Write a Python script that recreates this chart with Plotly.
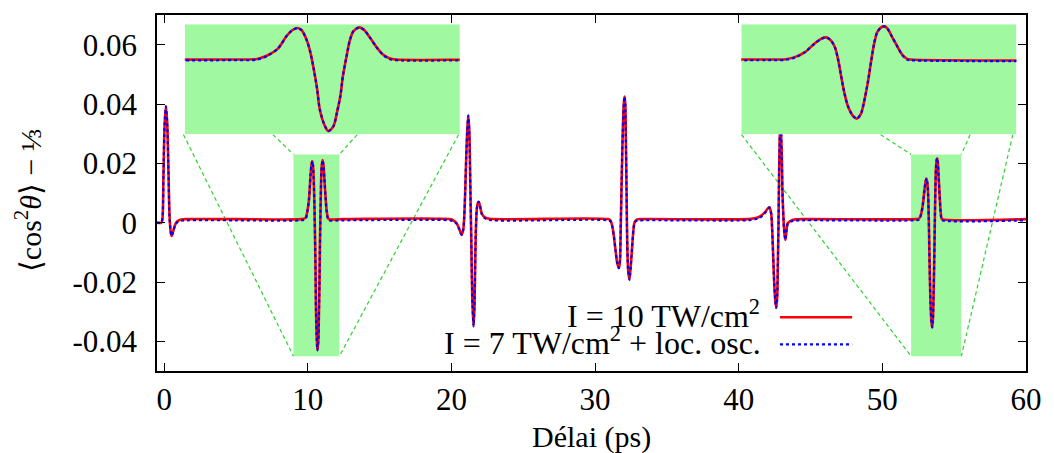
import plotly.graph_objects as go

# ---------------- data ----------------
delay_ps = [
    -0.5, -0.2, -0.12, -0.05, 0.03, 0.12, 0.21, 0.30, 0.37, 0.44, 0.51, 0.62, 0.78, 0.95, 1.2, 1.6,
    5.0, 9.5,
    9.84, 9.96, 10.08, 10.19, 10.25, 10.31, 10.36, 10.42, 10.46, 10.50, 10.54, 10.57, 10.63, 10.67,
    10.73, 10.77, 10.81, 10.84, 10.88, 10.92, 10.96, 11.03, 11.09, 11.15, 11.23, 11.31, 11.38, 11.46,
    12.5, 19.9,
    20.13, 20.36, 20.55, 20.71, 20.82, 20.89, 20.96, 21.03, 21.10, 21.17, 21.24, 21.28, 21.33, 21.38,
    21.42, 21.47, 21.54, 21.60, 21.65, 21.70, 21.76, 21.84, 21.90, 22.00, 22.11, 22.32, 22.66,
    30.9,
    31.08, 31.20, 31.31, 31.42, 31.54, 31.65, 31.72, 31.79, 31.86, 31.93, 32.00, 32.05, 32.10, 32.14,
    32.19, 32.23, 32.30, 32.39, 32.48, 32.58, 32.67, 32.76, 32.93, 33.2,
    40.6,
    41.11, 41.45, 41.80, 42.03, 42.14, 42.26, 42.33, 42.40, 42.47, 42.54, 42.61, 42.68, 42.72, 42.77,
    42.81, 42.86, 42.90, 42.95, 43.00, 43.04, 43.11, 43.18, 43.25, 43.32, 43.41, 43.64, 43.99, 44.5,
    52.3,
    52.56, 52.68, 52.81, 52.93, 53.02, 53.08, 53.14, 53.19, 53.23, 53.27, 53.31, 53.355, 53.42, 53.47,
    53.52, 53.56, 53.61, 53.65, 53.69, 53.73, 53.78, 53.82, 53.86, 53.92, 53.99, 54.05, 54.11, 54.15,
    60.0,
]

cos2_10TW = [
    0.0, 0.0, 0.0015, 0.0160, 0.0330, 0.0392, 0.0335, 0.0168, 0.0025, -0.0025, -0.0045, -0.0030, -0.0005, 0.0006, 0.0011, 0.0012,
    0.0012, 0.0012,
    0.0016, 0.0037, 0.0078, 0.0161, 0.0193, 0.0207, 0.0193, 0.0130, 0.0058, -0.0046, -0.0171, -0.0295, -0.0399, -0.0430,
    -0.0399, -0.0316, -0.0212, -0.0088, 0.0027, 0.0130, 0.0186, 0.0211, 0.0193, 0.0151, 0.0089, 0.0041, 0.0020, 0.0012,
    0.0012, 0.0012,
    0.0008, -0.0002, -0.0022, -0.0041, -0.0024, 0.0020, 0.0110, 0.0222, 0.0311, 0.0361, 0.0311, 0.0222, 0.0076, -0.0058,
    -0.0181, -0.0282, -0.0349, -0.0282, -0.0148, -0.0024, 0.0043, 0.0067, 0.0070, 0.0054, 0.0031, 0.0018, 0.0013,
    0.0012,
    0.0007, -0.0013, -0.0047, -0.0092, -0.0136, -0.0153, -0.0136, -0.0002, 0.0166, 0.0311, 0.0401, 0.0425, 0.0401, 0.0289,
    0.0110, -0.0047, -0.0159, -0.0192, -0.0148, -0.0081, -0.0024, 0.0003, 0.0011, 0.0012,
    0.0012,
    0.0015, 0.0020, 0.0034, 0.0048, 0.0052, 0.0031, -0.0024, -0.0114, -0.0203, -0.0259, -0.0287, -0.0248, -0.0148, -0.0002,
    0.0166, 0.0300, 0.0420, 0.0300, 0.0222, 0.0110, 0.0020, -0.0036, -0.0058, -0.0030, -0.0002, 0.0007, 0.0011, 0.0012,
    0.0012,
    0.0014, 0.0027, 0.0058, 0.0110, 0.0141, 0.0149, 0.0130, 0.0089, 0.0016, -0.0089, -0.0191, -0.0274, -0.0336, -0.0353,
    -0.0326, -0.0254, -0.0129, -0.0005, 0.0110, 0.0182, 0.0211, 0.0217, 0.0203, 0.0151, 0.0089, 0.0041, 0.0016, 0.0012,
    0.0012,
]

cos2_7TW_osc = [
    0.0, 0.0, 0.0015, 0.0160, 0.0330, 0.0392, 0.0335, 0.0168, 0.0025, -0.0025, -0.0045, -0.0030, -0.0007, 0.0003, 0.0007, 0.0008,
    0.0008, 0.0008,
    0.0012, 0.0035, 0.0078, 0.0161, 0.0193, 0.0207, 0.0193, 0.0130, 0.0058, -0.0046, -0.0171, -0.0295, -0.0399, -0.0430,
    -0.0399, -0.0316, -0.0212, -0.0088, 0.0027, 0.0130, 0.0186, 0.0211, 0.0193, 0.0151, 0.0089, 0.0039, 0.0016, 0.0008,
    0.0008, 0.0008,
    0.0005, -0.0004, -0.0023, -0.0041, -0.0024, 0.0020, 0.0110, 0.0222, 0.0311, 0.0361, 0.0311, 0.0222, 0.0076, -0.0058,
    -0.0181, -0.0282, -0.0349, -0.0282, -0.0148, -0.0024, 0.0043, 0.0067, 0.0070, 0.0054, 0.0029, 0.0015, 0.0009,
    0.0008,
    0.0004, -0.0014, -0.0047, -0.0092, -0.0136, -0.0153, -0.0136, -0.0002, 0.0166, 0.0311, 0.0401, 0.0425, 0.0401, 0.0289,
    0.0110, -0.0047, -0.0159, -0.0192, -0.0148, -0.0081, -0.0024, 0.0000, 0.0007, 0.0008,
    0.0008,
    0.0011, 0.0016, 0.0031, 0.0046, 0.0051, 0.0030, -0.0024, -0.0114, -0.0203, -0.0259, -0.0287, -0.0248, -0.0148, -0.0002,
    0.0166, 0.0300, 0.0420, 0.0300, 0.0222, 0.0110, 0.0018, -0.0036, -0.0058, -0.0030, -0.0004, 0.0004, 0.0007, 0.0008,
    0.0008,
    0.0010, 0.0024, 0.0058, 0.0110, 0.0141, 0.0149, 0.0130, 0.0089, 0.0016, -0.0089, -0.0191, -0.0274, -0.0336, -0.0353,
    -0.0326, -0.0254, -0.0129, -0.0005, 0.0110, 0.0182, 0.0211, 0.0217, 0.0203, 0.0151, 0.0089, 0.0038, 0.0012, 0.0008,
    0.0008,
]

series_names = ["I = 10 TW/cm<sup>2</sup>", "I = 7 TW/cm<sup>2</sup> + loc. osc."]

x_tickvals = [0, 10, 20, 30, 40, 50, 60]
x_ticktext = ["0", "10", "20", "30", "40", "50", "60"]
y_tickvals = [-0.04, -0.02, 0, 0.02, 0.04, 0.06]
y_ticktext = ["-0.04", "-0.02", "0", "0.02", "0.04", "0.06"]

x_range = [-0.5, 60]
y_range = [-0.05, 0.07]
zoom1_t = [9, 12.2]
zoom2_t = [52, 55.5]
zoom_v = [-0.045, 0.023]

# ---------------- styling ----------------
FONT = "Liberation Serif"
FS_TICK = 31
FS_LEG = 32
FS_LAB = 30
RED = "#ff0000"
BLUE = "#0000ff"
GREEN_FILL = "#a0f9a0"
GREEN_LINE = "#2bd62b"

fig = go.Figure()

for xa, ya in (("x", "y"), ("x2", "y2"), ("x3", "y3")):
    fig.add_trace(go.Scatter(
        x=delay_ps, y=cos2_10TW, mode="lines", xaxis=xa, yaxis=ya,
        line=dict(color=RED, width=2.6, shape="spline", smoothing=0.8),
        showlegend=False, hoverinfo="skip"))
    fig.add_trace(go.Scatter(
        x=delay_ps, y=cos2_7TW_osc, mode="lines", xaxis=xa, yaxis=ya,
        line=dict(color=BLUE, width=2.2, dash="3px,3px", shape="spline", smoothing=0.8),
        showlegend=False, hoverinfo="skip"))

axis_common = dict(
    showline=True, linecolor="black", linewidth=1.5, mirror="allticks",
    ticks="inside", ticklen=8, tickwidth=1, tickcolor="black",
    showgrid=False, zeroline=False,
    tickfont=dict(family=FONT, size=FS_TICK, color="black"),
)

# inset placement (fractions of plot area)
inset_y = [0.6649, 0.9739]
inset1_x = [0.0320, 0.3485]
inset2_x = [0.6724, 0.9889]

fig.update_layout(
    width=1054, height=453, autosize=False,
    margin=dict(l=157, r=21, t=15, b=82, pad=0),
    paper_bgcolor="white", plot_bgcolor="white",
    font=dict(family=FONT, size=FS_LAB, color="black"),
    showlegend=False,
    xaxis=dict(range=x_range, tickvals=x_tickvals, ticktext=x_ticktext,
               ticklabelstandoff=0, domain=[0, 1], **axis_common),
    yaxis=dict(range=y_range, tickvals=y_tickvals, ticktext=y_ticktext,
               ticklabelstandoff=12, domain=[0, 1], **axis_common),
    xaxis2=dict(domain=inset1_x, anchor="y2", range=zoom1_t, visible=False),
    yaxis2=dict(domain=inset_y, anchor="x2", range=zoom_v, visible=False),
    xaxis3=dict(domain=inset2_x, anchor="y3", range=zoom2_t, visible=False),
    yaxis3=dict(domain=inset_y, anchor="x3", range=zoom_v, visible=False),
)

shapes = []
# zoom rectangles in the main plot
for zt in (zoom1_t, zoom2_t):
    shapes.append(dict(type="rect", xref="x", yref="y", layer="below",
                       x0=zt[0], x1=zt[1], y0=zoom_v[0], y1=zoom_v[1],
                       fillcolor=GREEN_FILL, line=dict(width=0)))
# inset backgrounds
for xr, yr, zt in (("x2", "y2", zoom1_t), ("x3", "y3", zoom2_t)):
    shapes.append(dict(type="rect", xref=xr, yref=yr, layer="below",
                       x0=zt[0], x1=zt[1], y0=zoom_v[0], y1=zoom_v[1],
                       fillcolor=GREEN_FILL, line=dict(width=0)))
# connector lines (from rectangle corners to inset bottom edge)
inset_bottom_v = 0.0297
connectors = [
    (1.34, inset_bottom_v, zoom1_t[0], zoom_v[0]),
    (7.57, inset_bottom_v, zoom1_t[0], zoom_v[1]),
    (13.44, inset_bottom_v, zoom1_t[1], zoom_v[1]),
    (20.50, inset_bottom_v, zoom1_t[1], zoom_v[0]),
    (40.19, inset_bottom_v, zoom2_t[0], zoom_v[0]),
    (49.87, inset_bottom_v, zoom2_t[0], zoom_v[1]),
    (56.11, inset_bottom_v, zoom2_t[1], zoom_v[1]),
    (59.08, inset_bottom_v, zoom2_t[1], zoom_v[0]),
]
for x0, y0, x1, y1 in connectors:
    shapes.append(dict(type="line", xref="x", yref="y", layer="below",
                       x0=x0, y0=y0, x1=x1, y1=y1,
                       line=dict(color=GREEN_LINE, width=1.2, dash="4px,3px")))
# legend samples (gnuplot style: text then line)
shapes.append(dict(type="line", xref="paper", yref="paper", layer="above",
                   x0=0.7169, x1=0.7999, y0=0.1508, y1=0.1508,
                   line=dict(color=RED, width=2.6)))
shapes.append(dict(type="line", xref="paper", yref="paper", layer="above",
                   x0=0.7169, x1=0.7999, y0=0.0750, y1=0.0750,
                   line=dict(color=BLUE, width=2.2, dash="3px,3px")))
fig.update_layout(shapes=shapes)

annotations = [
    dict(text=series_names[0], xref="paper", yref="paper", x=0.6963, y=0.160,
         xanchor="right", yanchor="middle", showarrow=False,
         font=dict(family=FONT, size=FS_LEG, color="black")),
    dict(text=series_names[1], xref="paper", yref="paper", x=0.6975, y=0.0835,
         xanchor="right", yanchor="middle", showarrow=False,
         font=dict(family=FONT, size=FS_LEG, color="black")),
    dict(text="Délai (ps)", xref="paper", yref="paper", x=0.5, y=-0.185,
         xanchor="center", yanchor="middle", showarrow=False,
         font=dict(family=FONT, size=FS_LAB, color="black")),
    dict(text="⟨cos<sup>2</sup><i>θ</i>⟩ − ⅓", xref="paper", yref="paper",
         x=-0.1484, y=0.48, xanchor="center", yanchor="middle", textangle=-90,
         showarrow=False, font=dict(family=FONT, size=FS_LAB, color="black")),
]
fig.update_layout(annotations=annotations)

fig.write_html(
    "out.html",
    config={"displayModeBar": False},
    post_script="document.body.style.margin='0';document.body.style.padding='0';"
                "document.body.style.overflow='hidden';",
)
